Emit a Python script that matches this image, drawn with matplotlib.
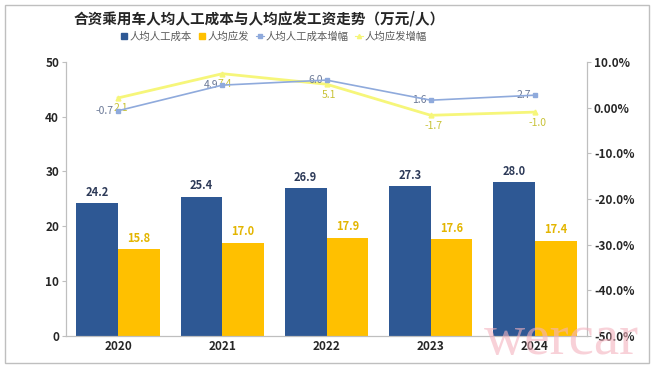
import matplotlib
matplotlib.use('Agg')
from matplotlib import pyplot as plt
from matplotlib.patches import Rectangle
from matplotlib.lines import Line2D
import numpy as np

plt.rcParams['font.family'] = ['Noto Sans CJK SC', 'DejaVu Sans']

years = ['2020', '2021', '2022', '2023', '2024']
labor_cost = [24.2, 25.4, 26.9, 27.3, 28.0]
wage = [15.8, 17.0, 17.9, 17.6, 17.4]
labor_growth = [-0.7, 4.9, 6.0, 1.6, 2.7]
wage_growth = [2.1, 7.4, 5.1, -1.7, -1.0]
right_ticks = [10, 0, -10, -20, -30, -40, -50]
right_labels = ['10.0%', '0.00%', '-10.0%', '-20.0%', '-30.0%', '-40.0%', '-50.0%']

title = '合资乘用车人均人工成本与人均应发工资走势（万元/人）'
names = ['人均人工成本', '人均应发', '人均人工成本增幅', '人均应发增幅']

c_blue = '#2E5894'
c_yellow = '#FFC000'
c_line_blue = '#8FAADC'
c_line_yellow = '#F6F67A'


def main():
    fig = plt.figure(figsize=(6.54, 3.68), dpi=100)
    ax = fig.add_axes([0.101, 0.087, 0.7966, 0.745])
    ax2 = ax.twinx()

    x = np.arange(len(years))
    w = 0.4
    b1 = ax.bar(x - w / 2, labor_cost, w, color=c_blue, zorder=2)
    b2 = ax.bar(x + w / 2, wage, w, color=c_yellow, zorder=2)
    for r, v in zip(b1, labor_cost):
        ax.text(r.get_x() + r.get_width() / 2, v + 0.8, '%.1f' % v, ha='center', va='bottom',
                fontsize=8, fontweight='bold', color='#2D3A58')
    for r, v in zip(b2, wage):
        ax.text(r.get_x() + r.get_width() / 2, v + 0.8, '%.1f' % v, ha='center', va='bottom',
                fontsize=8, fontweight='bold', color='#E3B500')

    ax.set_ylim(0, 50)
    ax.set_yticks(range(0, 51, 10))
    ax.set_xlim(-0.5, len(years) - 0.5)
    ax.set_xticks(x)
    ax.set_xticklabels(years)

    ax2.plot(x, wage_growth, color=c_line_yellow, lw=2, marker='^', ms=3.5, zorder=3)
    ax2.plot(x, labor_growth, color=c_line_blue, lw=1.2, marker='s', ms=2.5, zorder=4)
    for xi, v in zip(x, labor_growth):
        ax2.annotate('%.1f' % v, (xi, v), xytext=(-3, 0), textcoords='offset points',
                     ha='right', va='center', fontsize=7.5, color='#6A7896')
    for xi, v in zip(x, wage_growth):
        ax2.annotate('%.1f' % v, (xi, v), xytext=(2, -4), textcoords='offset points',
                     ha='center', va='top', fontsize=7.5, color='#C8C236')
    ax2.set_ylim(-50, 10)
    ax2.set_yticks(right_ticks)
    ax2.set_yticklabels(right_labels)

    for a in (ax, ax2):
        for s in a.spines.values():
            s.set_color('#BFBFBF')
            s.set_linewidth(0.8)
        a.spines['top'].set_visible(False)
        a.tick_params(axis='y', length=3, color='#BFBFBF', labelsize=8.5,
                      labelcolor='#262626', pad=2)
        for t in a.get_yticklabels():
            t.set_fontweight('bold')
    ax.tick_params(axis='x', length=0, labelsize=8.5, labelcolor='#262626', pad=3)
    for t in ax.get_xticklabels():
        t.set_fontweight('bold')

    fig.text(0.397, 0.951, title, ha='center', va='center', fontsize=10.5,
             fontweight='bold', color='#262626')

    handles = [
        Line2D([], [], ls='none', marker='s', ms=4.5, color=c_blue),
        Line2D([], [], ls='none', marker='s', ms=4.5, color=c_yellow),
        Line2D([], [], lw=0.8, marker='s', ms=2.5, color=c_line_blue),
        Line2D([], [], lw=0.8, marker='^', ms=3, color=c_line_yellow),
    ]
    fig.legend(handles, names, loc='center', bbox_to_anchor=(0.418, 0.9), ncol=4,
               frameon=False, fontsize=7.5, handlelength=0.8, handletextpad=0.15,
               columnspacing=0.6, labelcolor='#595959', borderpad=0)

    fig.text(0.858, 0.075, 'wercar', ha='center', va='center', fontsize=41,
             family='Liberation Serif', color='#F4B3BF', alpha=0.6, zorder=10)

    fig.patches.append(Rectangle((0.007, 0.014), 0.985, 0.972, transform=fig.transFigure,
                                 fill=False, edgecolor='#BFBFBF', lw=1))

    fig.savefig('out.png', dpi=100)


if __name__ == '__main__':
    main()
